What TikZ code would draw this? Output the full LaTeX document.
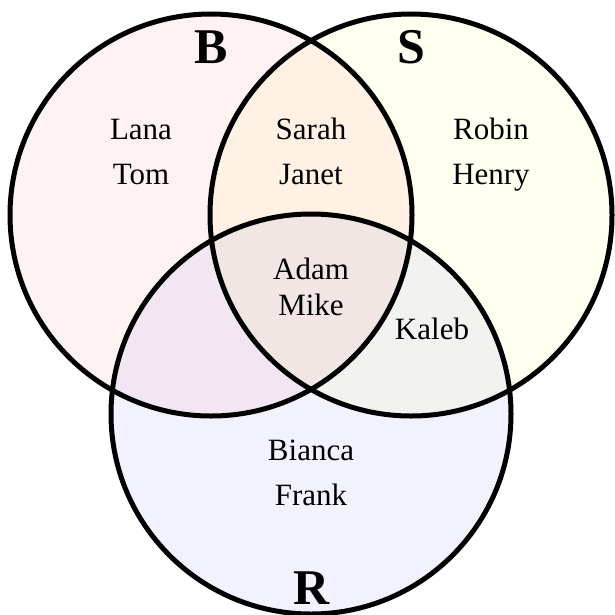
\documentclass[tikz,border=0pt]{standalone}
\usepackage{fontspec}
\setmainfont{Liberation Serif}
\usepackage{xcolor}
\usepackage{tikz}
\usetikzlibrary{positioning}
\definecolor{VennB}{HTML}{FFF2F2}
\definecolor{VennS}{HTML}{FFFFF0}
\definecolor{VennR}{HTML}{F2F2FF}
\definecolor{VennBS}{HTML}{FFF2E4}
\definecolor{VennBR}{HTML}{F2E6F2}
\definecolor{VennSR}{HTML}{F2F2F0}
\definecolor{VennBSR}{HTML}{F2E6E4}
\tikzset{
  vennring/.style={draw=black,line width=5pt},
  vennname/.style={font=\fontsize{31}{45}\selectfont,align=center,anchor=base},
  venntight/.style={vennname,font=\fontsize{31}{36}\selectfont},
  vennset/.style={font=\fontsize{50}{50}\selectfont\bfseries,anchor=base},
}

\begin{document}
\begin{tikzpicture}[x=1pt,y=-1pt]
  \useasboundingbox (0,0) rectangle (615,614);
  \coordinate (cB) at (211,215);
  \coordinate (cS) at (411,215);
  \coordinate (cR) at (311,414);

  % fills, overlaps by clipping
  \fill[VennB] (cB) circle[radius=201pt];
  \fill[VennS] (cS) circle[radius=201pt];
  \fill[VennR] (cR) circle[radius=200pt];
  \begin{scope}
    \clip (cB) circle[radius=201pt];
    \fill[VennBS] (cS) circle[radius=201pt];
    \fill[VennBR] (cR) circle[radius=200pt];
  \end{scope}
  \begin{scope}
    \clip (cS) circle[radius=201pt];
    \fill[VennSR] (cR) circle[radius=200pt];
  \end{scope}
  \begin{scope}
    \clip (cB) circle[radius=201pt];
    \clip (cS) circle[radius=201pt];
    \fill[VennBSR] (cR) circle[radius=200pt];
  \end{scope}

  \draw[vennring] (cB) circle[radius=201pt];
  \draw[vennring] (cS) circle[radius=201pt];
  \draw[vennring] (cR) circle[radius=200pt];

  \node[vennset] (setB) at (211,63) {B};
  \node[vennset] (setS) at (411,63) {S};
  \node[vennset] (setR) at (312,604) {R};

  % base anchor sits on the last line
  \node[vennname] (onlyB) at (141,184) {Lana\\Tom};
  \node[vennname] (onlyBS) at (311,184) {Sarah\\Janet};
  \node[vennname] (onlyS) at (491,184) {Robin\\Henry};
  \node[venntight] (allBSR) at (311,315) {Adam\\Mike};
  \node[vennname] (onlySR) at (432,339) {Kaleb};
  \node[vennname] (onlyR) at (311,505) {Bianca\\Frank};
\end{tikzpicture}
\end{document}
